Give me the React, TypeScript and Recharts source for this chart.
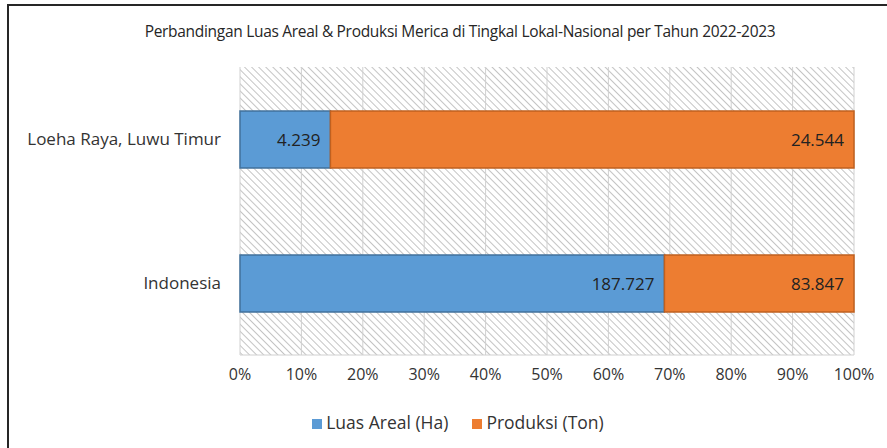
import React from "react";
import {
  BarChart,
  Bar,
  XAxis,
  YAxis,
  CartesianGrid,
  Legend,
  LabelList,
} from "recharts";

const regions = ["Loeha Raya, Luwu Timur", "Indonesia"];
const luasAreal = [4239, 187727];
const produksi = [24544, 83847];
const xTicks = [0, 0.1, 0.2, 0.3, 0.4, 0.5, 0.6, 0.7, 0.8, 0.9, 1];

const title =
  "Perbandingan Luas Areal & Produksi Merica di Tingkal Lokal-Nasional per Tahun 2022-2023";

const font = "'Open Sans', sans-serif";

// indonesian thousands separator
const fmt = (v: any) => String(v).replace(/\B(?=(\d{3})+(?!\d))/g, ".");

const data = regions.map((name, i) => ({
  name,
  luas: luasAreal[i],
  produksi: produksi[i],
}));

const App = () => {
  return (
    <div
      style={{
        position: "absolute",
        left: 0,
        top: 0,
        width: 887,
        height: 448,
        background: "#fff",
        fontFamily: font,
      }}
    >
      <svg width={0} height={0} style={{ position: "absolute" }}>
        <defs>
          <pattern
            id="hatch"
            patternUnits="userSpaceOnUse"
            width={5}
            height={5}
            patternTransform="rotate(-45)"
          >
            <rect width={5} height={5} fill="#ffffff" />
            <line x1={0} y1={0} x2={0} y2={5} stroke="#c4c4c4" strokeWidth={2} />
          </pattern>
        </defs>
      </svg>
      <div
        style={{
          position: "absolute",
          left: 7,
          top: 4,
          width: 880,
          height: 444,
          borderTop: "2px solid #262626",
          borderLeft: "2px solid #262626",
        }}
      />
      <div
        style={{
          position: "absolute",
          left: 0,
          top: 20,
          width: 920,
          textAlign: "center",
          fontSize: 15.5,
          letterSpacing: -0.3,
          color: "#262626",
          whiteSpace: "nowrap",
        }}
      >
        {title}
      </div>
      <BarChart
        width={887}
        height={448}
        data={data}
        layout="vertical"
        stackOffset="expand"
        barSize={57}
        margin={{ top: 67, right: 33, bottom: 39, left: 0 }}
      >
        <CartesianGrid
          horizontal={false}
          stroke="#d0d0d0"
          fill="url(#hatch)"
          fillOpacity={1}
        />
        <XAxis
          type="number"
          domain={[0, 1]}
          ticks={xTicks}
          tickFormatter={(v: number) => `${Math.round(v * 100)}%`}
          axisLine={{ stroke: "#d0d0d0" }}
          tickLine={false}
          tickMargin={8}
          tick={{ fill: "#333", fontSize: 16, fontFamily: font }}
          interval={0}
        />
        <YAxis
          type="category"
          dataKey="name"
          width={240}
          axisLine={false}
          tickLine={false}
          tickMargin={13}
          tick={{ fill: "#333", fontSize: 17, fontFamily: font }}
        />
        <Legend
          verticalAlign="bottom"
          iconType="square"
          iconSize={10}
          wrapperStyle={{
            left: 300,
            width: 340,
            bottom: 14,
            fontSize: 17.5,
            fontFamily: font,
          }}
          formatter={(value: string) => (
            <span style={{ color: "#333", marginRight: 14 }}>{value}</span>
          )}
        />
        <Bar
          dataKey="luas"
          name="Luas Areal (Ha)"
          stackId="a"
          fill="#5b9bd5"
          stroke="#41719c"
          strokeWidth={1.5}
          isAnimationActive={false}
        >
          <LabelList
            dataKey="luas"
            position="insideRight"
            offset={10}
            formatter={fmt}
            style={{ fill: "#222", fontSize: 17, fontFamily: font }}
          />
        </Bar>
        <Bar
          dataKey="produksi"
          name="Produksi (Ton)"
          stackId="a"
          fill="#ed7d31"
          stroke="#c0601f"
          strokeWidth={1.5}
          isAnimationActive={false}
        >
          <LabelList
            dataKey="produksi"
            position="insideRight"
            offset={10}
            formatter={fmt}
            style={{ fill: "#222", fontSize: 17, fontFamily: font }}
          />
        </Bar>
      </BarChart>
    </div>
  );
};

export default App;
